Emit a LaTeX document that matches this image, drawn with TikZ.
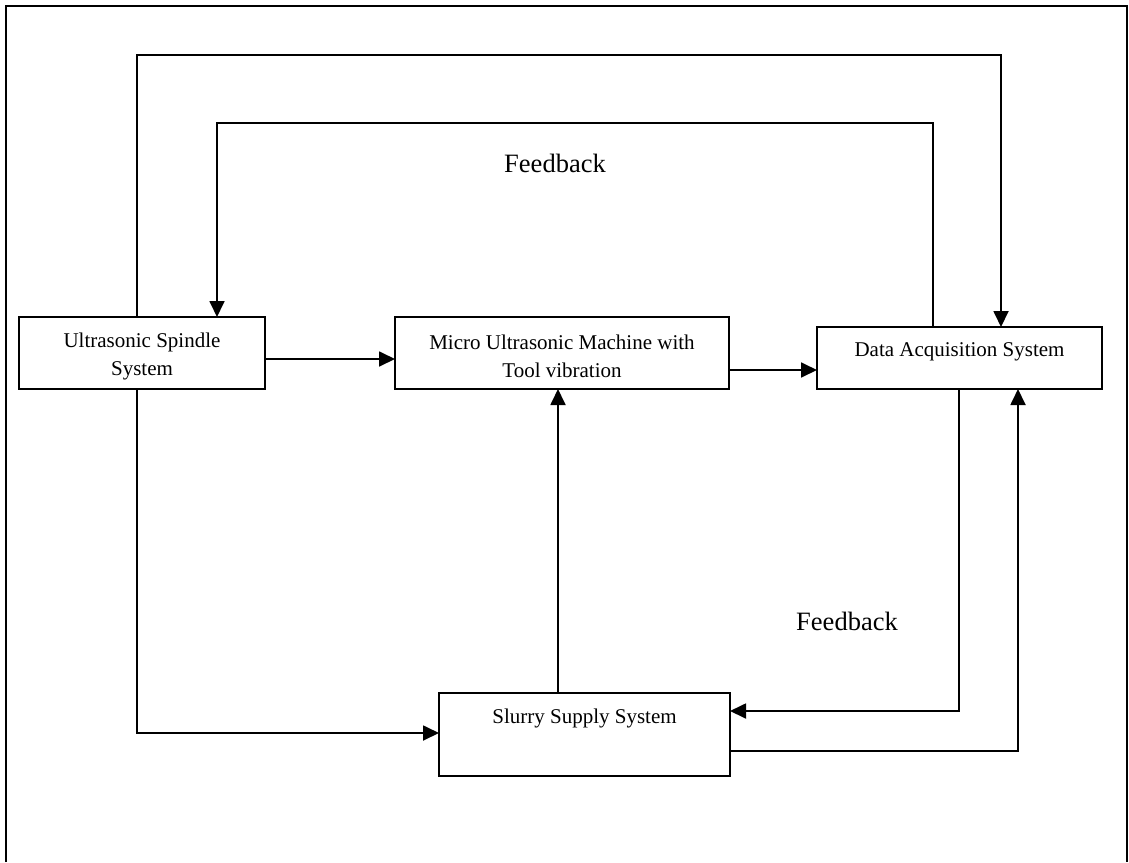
\documentclass[tikz,border=0pt]{standalone}
\usepackage{fontspec}
\setmainfont{Liberation Serif}
\usetikzlibrary{arrows.meta}
\begin{document}
\begin{tikzpicture}[x=1pt,y=-1pt,
  box/.style={draw,line width=1.2pt,rectangle,anchor=north west,inner sep=0pt,outer sep=0pt},
  boxtext/.style={font=\fontsize{21}{28}\selectfont,align=center,inner sep=0pt},
  fbtext/.style={font=\fontsize{26.5}{32}\selectfont,inner sep=0pt},
  conn/.style={line width=1.8pt,-{Triangle[length=16pt,width=15pt]}}]
  \useasboundingbox (0,0) rectangle (1129,862);
  % open frame round the diagram
  \draw[line width=2.4pt] (6,862) -- (6,6) -- (1127,6) -- (1127,862);

  % blocks
  \node[box,minimum width=246pt,minimum height=72pt] (sp) at (19,317) {};
  \node[box,minimum width=334pt,minimum height=72pt] (mu) at (395,317) {};
  \node[box,minimum width=285pt,minimum height=62pt] (das) at (817,327) {};
  \node[box,minimum width=291pt,minimum height=83pt] (sl) at (439,693) {};

  % block captions
  \node[boxtext] (spt) at (142,356) {Ultrasonic Spindle\\System};
  \node[boxtext] (mut) at (562,356) {Micro Ultrasonic Machine with\\Tool vibration};
  \node[boxtext] (dast) at (959.5,352) {Data Acquisition System};
  \node[boxtext] (slt) at (584.5,718) {Slurry Supply System};

  % feedback labels
  \node[fbtext] (fb1) at (555,163) {Feedback};
  \node[fbtext] (fb2) at (847,621) {Feedback};

  % outer loop: spindle to data acquisition
  \draw[conn] ([xshift=118pt]sp.north west) -- ++(0,-262) -| ([xshift=184pt]das.north west);
  % inner loop: data acquisition back to spindle
  \draw[conn] ([xshift=116pt]das.north west) -- ++(0,-204) -| ([xshift=198pt]sp.north west);
  % spindle to machine
  \draw[conn] ([yshift=-6pt]sp.east) coordinate (a1) -- (a1 -| mu.west);
  % machine to data acquisition
  \draw[conn] ([yshift=-17pt]mu.east) coordinate (a2) -- (a2 -| das.west);
  % spindle to slurry supply
  \draw[conn] ([xshift=118pt]sp.south west) |- ([yshift=1.5pt]sl.west);
  % slurry supply to machine
  \draw[conn] ([xshift=119pt]sl.north west) coordinate (a3) -- (a3 |- mu.south);
  % data acquisition to slurry supply
  \draw[conn] ([xshift=142pt]das.south west) |- ([yshift=23.5pt]sl.east);
  % slurry supply to data acquisition
  \draw[conn] ([yshift=-16.5pt]sl.east) -| ([xshift=201pt]das.south west);
\end{tikzpicture}
\end{document}
